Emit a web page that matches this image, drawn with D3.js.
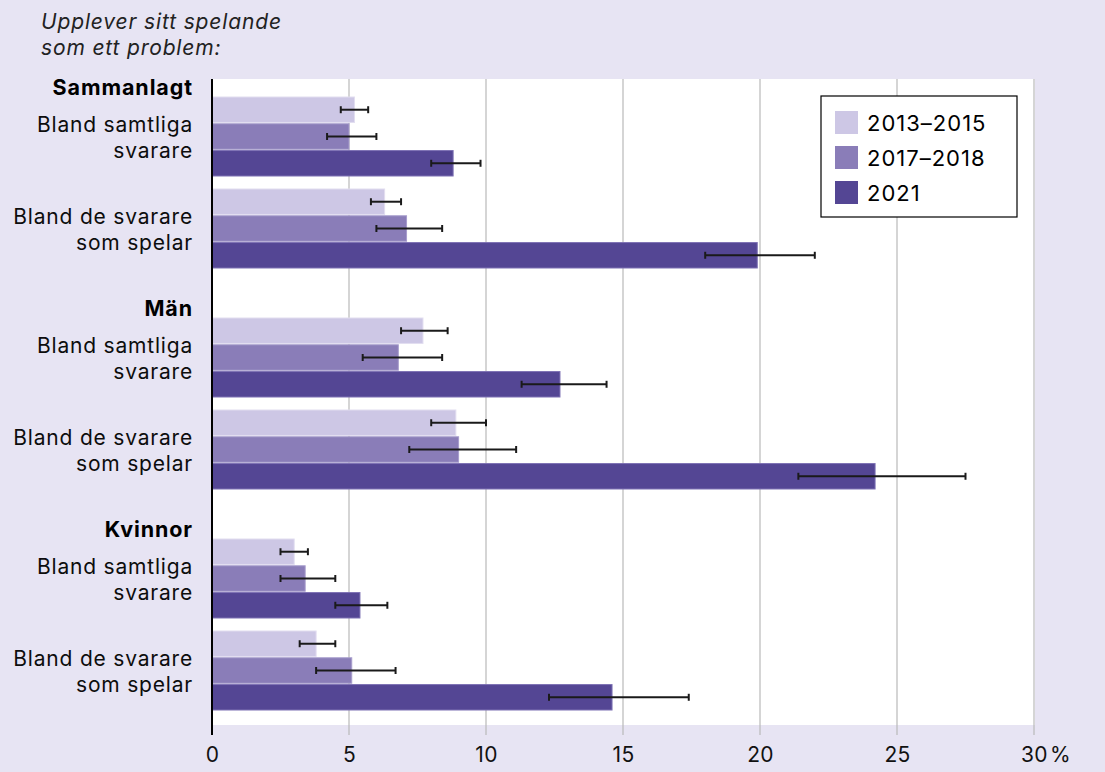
<!DOCTYPE html>
<html>
<head>
<meta charset="utf-8">
<script src="https://cdn.jsdelivr.net/npm/d3@7"></script>
<style>
  html, body { margin: 0; padding: 0; background: #e7e4f3; }
  svg { display: block; font-family: Inter, "Noto Sans", sans-serif; }
</style>
</head>
<body>
<svg id="chart" width="1105" height="772"></svg>
<script>
// Groups, subgroups and periods
const groups = ["Sammanlagt", "Män", "Kvinnor"];
const subgroups = [["Bland samtliga", "svarare"], ["Bland de svarare", "som spelar"]];
const periods = ["2013–2015", "2017–2018", "2021"];
const xTicks = [0, 5, 10, 15, 20, 25, 30];

// Share (%) per row: Sammanlagt/samtliga, Sammanlagt/spelar, Män/samtliga, Män/spelar, Kvinnor/samtliga, Kvinnor/spelar
const val2013 = [5.2, 6.3, 7.7, 8.9, 3.0, 3.8];
const low2013 = [4.7, 5.8, 6.9, 8.0, 2.5, 3.2];
const high2013 = [5.7, 6.9, 8.6, 10.0, 3.5, 4.5];

const val2017 = [5.0, 7.1, 6.8, 9.0, 3.4, 5.1];
const low2017 = [4.2, 6.0, 5.5, 7.2, 2.5, 3.8];
const high2017 = [6.0, 8.4, 8.4, 11.1, 4.5, 6.7];

const val2021 = [8.8, 19.9, 12.7, 24.2, 5.4, 14.6];
const low2021 = [8.0, 18.0, 11.3, 21.4, 4.5, 12.3];
const high2021 = [9.8, 22.0, 14.4, 27.5, 6.4, 17.4];

const colors = ["#cdc7e5", "#8a7db8", "#544694"];
const strokes = ["#e2def0", "#a79dcc", "#7d71b3"];

const seriesVals = [val2013, val2017, val2021];
const seriesLow = [low2013, low2017, low2021];
const seriesHigh = [high2013, high2017, high2021];

const rows = [];
groups.forEach((g, gi) => subgroups.forEach((s, si) => {
  const r = gi * subgroups.length + si;
  periods.forEach((p, pi) => rows.push({
    group: gi, sub: si, period: pi,
    value: seriesVals[pi][r], low: seriesLow[pi][r], high: seriesHigh[pi][r]
  }));
}));

const svg = d3.select("#chart");

const plot = { left: 212, right: 1035, top: 79, bottom: 725, axisBottom: 735 };

const x = d3.scaleLinear().domain([0, 30]).range([212, 1034]);

// vertical layout: group start, subgroup offset, bar band
const groupY = d3.scaleLinear().domain([0, 2]).range([97, 539]);
const subOffset = d3.scaleLinear().domain([0, 1]).range([0, 92]);
const barBand = d3.scaleBand().domain(periods).range([0, 79]).paddingInner(0.05).paddingOuter(0);

const rowY = d => groupY(d.group) + subOffset(d.sub) + barBand(periods[d.period]);

// white plotting area
svg.append("rect")
  .attr("x", plot.left).attr("y", plot.top)
  .attr("width", plot.right - plot.left).attr("height", plot.bottom - plot.top)
  .attr("fill", "#ffffff");

// gridlines
svg.append("g").selectAll("line")
  .data(xTicks.filter(t => t > 0))
  .join("line")
  .attr("x1", d => x(d)).attr("x2", d => x(d))
  .attr("y1", plot.top).attr("y2", plot.axisBottom)
  .attr("stroke", "#b9b9b9").attr("stroke-width", 1.2);

// bars
svg.append("g").selectAll("rect")
  .data(rows)
  .join("rect")
  .attr("x", x(0))
  .attr("y", d => rowY(d))
  .attr("width", d => x(d.value) - x(0))
  .attr("height", barBand.bandwidth())
  .attr("fill", d => colors[d.period])
  .attr("stroke", d => strokes[d.period])
  .attr("stroke-width", 1);

// error bars
const err = svg.append("g").attr("stroke", "#1a1a1a").attr("stroke-width", 2);
rows.forEach(d => {
  const cy = rowY(d) + barBand.bandwidth() / 2;
  err.append("line").attr("x1", x(d.low)).attr("x2", x(d.high)).attr("y1", cy).attr("y2", cy);
  err.append("line").attr("x1", x(d.low)).attr("x2", x(d.low)).attr("y1", cy - 3.5).attr("y2", cy + 3.5);
  err.append("line").attr("x1", x(d.high)).attr("x2", x(d.high)).attr("y1", cy - 3.5).attr("y2", cy + 3.5);
});

// x axis labels
const xAxis = d3.axisBottom(x).tickValues(xTicks).tickSize(0).tickPadding(0).tickFormat(d3.format("d"));
const axG = svg.append("g").attr("transform", `translate(0, ${plot.axisBottom})`).call(xAxis);
axG.select(".domain").remove();
axG.selectAll("text")
  .attr("y", 27)
  .attr("dy", 0)
  .attr("font-family", "Inter, 'Noto Sans', sans-serif")
  .attr("font-size", 21)
  .attr("letter-spacing", 0.3)
  .attr("fill", "#111");
svg.append("text")
  .attr("x", x(30) + 16).attr("y", plot.axisBottom + 27)
  .attr("font-size", 21).attr("fill", "#111")
  .text("%");

// vertical axis line
svg.append("line")
  .attr("x1", x(0)).attr("x2", x(0))
  .attr("y1", plot.top).attr("y2", plot.axisBottom)
  .attr("stroke", "#000").attr("stroke-width", 2);

// group headers and subgroup labels
const labelX = 193;
groups.forEach((g, gi) => {
  svg.append("text")
    .attr("x", labelX).attr("y", groupY(gi) - 2)
    .attr("text-anchor", "end")
    .attr("font-size", 21.5).attr("font-weight", 700).attr("fill", "#000")
    .attr("letter-spacing", 0.9)
    .text(g);
  subgroups.forEach((s, si) => {
    const mid = groupY(gi) + subOffset(si) + 39.5;
    const t = svg.append("text")
      .attr("text-anchor", "end")
      .attr("font-size", 21).attr("fill", "#0d0d0d")
      .attr("letter-spacing", 0.8);
    s.forEach((line, li) => {
      t.append("tspan").attr("x", labelX).attr("y", mid - 5 + li * 26).text(line);
    });
  });
});

// title
const title = svg.append("text")
  .attr("font-size", 21).attr("font-style", "italic").attr("fill", "#222")
  .attr("letter-spacing", 0.85);
title.append("tspan").attr("x", 41).attr("y", 29).text("Upplever sitt spelande");
title.append("tspan").attr("x", 41).attr("y", 55).text("som ett problem:");

// legend
const lg = svg.append("g").attr("transform", "translate(821, 96)");
lg.append("rect").attr("width", 196).attr("height", 121)
  .attr("fill", "#fff").attr("stroke", "#000").attr("stroke-width", 1.2);
periods.forEach((p, i) => {
  lg.append("rect").attr("x", 14).attr("y", 15 + i * 35)
    .attr("width", 23).attr("height", 23).attr("fill", colors[i]);
  lg.append("text").attr("x", 46).attr("y", 35 + i * 35)
    .attr("font-size", 22).attr("fill", "#000")
    .attr("letter-spacing", 1)
    .text(p);
});
</script>
</body>
</html>
